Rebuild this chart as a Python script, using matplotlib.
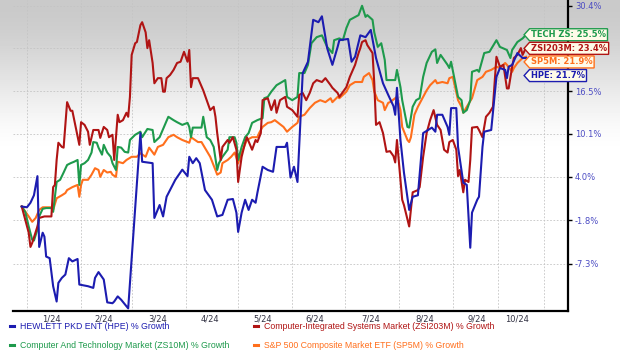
import numpy as np
import pandas as pd
import matplotlib
matplotlib.use("Agg")
import matplotlib.pyplot as plt
from matplotlib.path import Path
from matplotlib.lines import Line2D

# ---------------- DATA (days since 2024-01-01, % growth) ----------------
hpe_day = [-3, 0, 2, 4, 6, 7, 9, 10, 11, 13, 15, 17, 18, 20, 22, 24, 26, 29, 30, 35,
           38, 39, 41, 44, 46, 49, 50, 52, 54, 58, 65, 66, 72, 73, 76, 78, 80, 85, 89, 92,
           93, 95, 97, 99, 102, 106, 109, 112, 115, 118, 120, 121, 123, 125, 127, 129, 131, 132, 135, 138,
           141, 143, 148, 149, 151, 153, 155, 158, 161, 164, 167, 169, 171, 172, 175, 178, 179, 184, 186, 188,
           191, 194, 197, 200, 204, 207, 210, 211, 212, 214, 216, 219, 221, 224, 227, 232, 234, 235, 238, 241,
           242, 243, 246, 247, 250, 252, 254, 255, 258, 259, 261, 262, 266, 269, 271, 274, 275, 276, 278, 281,
           284, 286]
hpe_pct = [0.0, -0.1, 0.5, 1.5, 4.1, -5.2, -3.4, -3.9, -6.4, -6.6, -10.0, -11.8, -9.6, -9.0, -8.6, -6.6, -7.0, -6.7, -9.8, -10.0,
           -10.2, -9.0, -8.3, -9.2, -11.9, -12.0, -11.8, -11.2, -11.6, -12.6, 10.2, 6.1, 5.9, -1.5, 0.2, -1.3, 1.3, 3.6, 5.0, 4.1,
           6.8, 5.9, 6.6, 5.9, 2.2, 0.9, -1.3, -1.1, 0.9, 1.0, -0.8, -3.3, -0.8, 0.9, -0.45, 0.9, 0.5, 1.8, 5.4, 4.95,
           4.7, 8.2, 8.2, 8.8, 3.9, 5.4, 3.3, 19.3, 21.1, 28.0, 27.6, 28.6, 25.1, 23.3, 20.6, 23.5, 24.6, 24.8, 21.1, 21.9,
           25.4, 25.1, 26.3, 21.7, 17.7, 15.9, 14.2, 12.9, 17.0, 9.2, 4.6, -0.45, 1.3, 1.5, 10.2, 11.0, 10.4, 12.9, 12.9, 11.1,
           9.95, 13.9, 13.9, 8.2, 3.2, 2.9, -5.3, -0.8, 0.9, 1.3, 8.2, 10.4, 10.65, 18.7, 20.1, 19.8, 18.5, 20.3, 20.6, 22.5,
           21.7, 21.7]

zsi_day = [-3, 1, 2, 3, 6, 7, 10, 14, 15, 16, 17, 18, 20, 21, 23, 25, 26, 30, 31, 33,
           35, 36, 38, 41, 42, 44, 46, 47, 49, 50, 52, 53, 55, 57, 58, 59, 60, 62, 63, 65,
           66, 68, 69, 70, 72, 73, 75, 77, 78, 79, 80, 82, 84, 86, 88, 90, 92, 93, 94, 95,
           98, 101, 103, 105, 107, 108, 109, 111, 112, 115, 116, 118, 120, 121, 123, 125, 126, 129, 131, 132,
           134, 135, 138, 140, 142, 143, 145, 148, 149, 152, 155, 156, 158, 160, 162, 164, 166, 169, 171, 174,
           175, 178, 179, 183, 185, 188, 190, 191, 192, 194, 195, 198, 199, 200, 202, 204, 206, 208, 210, 211,
           212, 214, 215, 216, 219, 221, 224, 225, 227, 229, 231, 233, 235, 237, 239, 241, 242, 244, 246, 247,
           248, 250, 251, 253, 254, 255, 258, 259, 261, 263, 265, 267, 269, 271, 273, 275, 276, 278, 279, 281,
           283, 284, 286]
zsi_pct = [0.0, -3.4, -5.2, -4.7, -2.6, -1.5, -1.3, -1.3, 2.6, 2.9, 6.35, 8.8, 8.2, 8.1, 14.8, 13.5, 13.5, 8.5, 11.8, 11.4,
           10.4, 8.5, 10.65, 10.65, 9.5, 11.1, 10.65, 9.6, 9.95, 6.35, 12.9, 11.8, 12.1, 13.2, 12.6, 15.6, 22.2, 24.1, 24.3, 27.1,
           27.6, 25.9, 23.3, 24.6, 20.9, 17.7, 18.5, 18.5, 16.4, 16.4, 18.5, 19.0, 19.8, 20.9, 21.1, 22.7, 21.1, 23.0, 17.1, 18.5,
           18.5, 16.6, 15.1, 13.6, 14.1, 12.6, 10.2, 6.35, 8.2, 9.2, 8.8, 9.6, 7.8, 3.3, 6.8, 8.8, 9.6, 7.8, 9.2, 8.9,
           10.2, 15.1, 15.4, 13.6, 15.1, 13.2, 15.1, 15.6, 14.1, 13.6, 12.6, 15.9, 16.2, 15.1, 16.2, 17.7, 18.2, 17.9, 18.5, 17.4,
           17.0, 16.2, 15.6, 17.1, 18.7, 20.6, 22.5, 23.3, 24.3, 24.6, 23.8, 22.5, 17.7, 11.4, 11.8, 10.2, 7.5, 7.6, 6.9, 6.0,
           9.2, 3.6, 0.9, 0.2, -2.6, 1.9, 2.2, 2.6, 6.8, 10.2, 12.1, 13.6, 11.4, 10.65, 7.8, 7.4, 8.9, 9.2, 7.8, 4.1,
           4.95, 1.9, 3.6, 3.3, 6.35, 11.0, 11.1, 10.65, 9.6, 12.6, 13.2, 14.1, 21.9, 20.3, 20.6, 16.9, 16.9, 20.3, 21.7, 22.2,
           23.3, 22.2, 23.4]

zs10_day = [-3, -1, 1, 3, 4, 6, 7, 9, 11, 14, 15, 17, 19, 21, 23, 25, 27, 29, 30, 31,
            33, 35, 37, 38, 40, 41, 43, 44, 46, 48, 49, 51, 52, 54, 56, 58, 59, 62, 65, 66,
            69, 72, 73, 76, 79, 81, 84, 86, 89, 92, 93, 94, 95, 98, 100, 101, 103, 105, 107, 109,
            110, 112, 115, 116, 119, 120, 121, 123, 125, 127, 129, 132, 135, 136, 138, 140, 143, 148, 149, 152,
            155, 156, 159, 161, 163, 166, 169, 172, 175, 176, 179, 181, 183, 185, 190, 192, 194, 195, 198, 199,
            201, 203, 205, 206, 211, 212, 214, 215, 218, 219, 221, 223, 225, 227, 229, 232, 234, 235, 237, 241,
            242, 243, 247, 249, 250, 252, 254, 255, 258, 259, 262, 265, 269, 271, 275, 277, 278, 281, 284, 286]
zs10_pct = [0.0, -0.7, -2.6, -4.3, -4.4, -3.0, -1.3, -0.3, -0.2, -0.2, -0.7, 3.3, 3.6, 4.6, 5.65, 5.9, 6.1, 6.35, 2.9, 5.65,
            5.9, 6.35, 7.4, 8.9, 8.8, 8.1, 7.1, 8.5, 7.4, 6.8, 5.9, 4.95, 8.2, 8.1, 7.5, 7.4, 9.2, 9.95, 10.4, 9.6,
            10.8, 10.65, 8.9, 9.6, 11.4, 12.6, 12.1, 11.8, 11.4, 11.7, 11.1, 9.6, 11.0, 11.0, 11.0, 12.6, 9.6, 9.2, 8.2, 4.95,
            5.9, 6.8, 7.8, 9.6, 9.6, 8.8, 6.35, 8.2, 9.6, 10.2, 11.7, 12.1, 12.4, 15.4, 15.6, 16.4, 17.4, 18.2, 15.6, 15.1,
            15.6, 19.3, 19.3, 20.6, 24.1, 25.1, 25.4, 23.5, 22.5, 24.6, 24.9, 24.6, 26.6, 28.0, 28.8, 30.4, 28.5, 28.8, 28.0, 25.9,
            23.5, 24.1, 21.4, 18.2, 18.2, 19.8, 17.1, 15.1, 11.1, 11.0, 14.1, 15.1, 15.4, 18.7, 20.9, 22.7, 23.1, 20.9, 22.2, 20.6,
            20.1, 21.1, 15.6, 15.1, 13.2, 13.6, 15.1, 19.5, 19.8, 19.5, 22.5, 22.7, 24.6, 23.5, 23.0, 21.7, 23.0, 24.3, 24.9, 25.5]

sp5_day = [-3, 1, 3, 5, 7, 9, 11, 14, 15, 17, 20, 22, 23, 26, 29, 30, 31, 32, 35, 37,
           39, 41, 42, 44, 46, 48, 49, 51, 52, 55, 57, 60, 63, 65, 68, 70, 73, 75, 78, 81,
           84, 86, 89, 93, 94, 98, 100, 105, 108, 109, 111, 112, 115, 117, 119, 121, 123, 126, 129, 132,
           133, 135, 138, 140, 142, 147, 149, 152, 155, 156, 159, 162, 165, 168, 171, 174, 175, 178, 179, 183,
           185, 188, 192, 193, 196, 198, 199, 201, 204, 205, 207, 208, 212, 214, 215, 218, 219, 220, 222, 224,
           226, 229, 231, 234, 235, 238, 241, 242, 244, 247, 249, 250, 252, 255, 258, 261, 263, 266, 269, 271,
           274, 275, 278, 279, 281, 284, 286]
sp5_pct = [0.0, -1.3, -2.0, -1.5, -0.45, -0.1, -0.1, -0.1, -0.45, 1.1, 1.5, 1.8, 2.2, 2.6, 2.9, 1.3, 2.9, 3.6, 3.6, 4.3,
           5.2, 4.95, 4.0, 4.95, 4.6, 4.7, 4.3, 4.0, 6.1, 5.9, 6.35, 6.8, 6.8, 7.3, 6.8, 8.1, 7.1, 8.2, 8.5, 9.6,
           9.95, 9.6, 9.2, 8.8, 9.6, 8.9, 8.9, 6.8, 4.95, 4.3, 4.6, 5.9, 6.35, 6.8, 7.4, 5.9, 7.4, 9.2, 9.6, 9.6,
           10.2, 11.1, 11.7, 11.8, 12.1, 11.1, 10.4, 11.1, 11.7, 12.6, 12.9, 13.9, 14.7, 15.1, 14.8, 15.4, 14.8, 15.6, 15.4, 16.4,
           17.4, 17.9, 17.9, 18.7, 19.3, 18.2, 16.4, 15.1, 14.7, 13.6, 14.7, 14.8, 15.6, 13.6, 11.1, 9.2, 8.9, 9.6, 12.9, 14.1,
           15.1, 16.6, 17.4, 18.2, 17.7, 17.9, 17.7, 18.5, 18.7, 15.1, 14.1, 13.2, 14.1, 15.4, 18.2, 18.7, 19.5, 19.8, 20.3, 20.1,
           20.9, 20.6, 19.5, 20.1, 20.9, 21.7, 21.9]

names = ["HEWLETT PKD ENT (HPE) % Growth",
         "Computer And Technology Market (ZS10M) % Growth",
         "Computer-Integrated Systems Market (ZSI203M) % Growth",
         "S&P 500 Composite Market ETF (SP5M) % Growth"]
flag_text = ["HPE: 21.7%", "TECH ZS: 25.5%", "ZSI203M: 23.4%", "SP5M: 21.9%"]
colors = ["#1c1cb0", "#1e9a4c", "#b01414", "#ff6f1c"]

y_ticks = [30.4, 23.3, 16.5, 10.1, 4.0, -1.8, -7.3]
y_labels = ["30.4%", "", "16.5%", "10.1%", "4.0%", "-1.8%", "-7.3%"]
x_label_dates = ["2024-01-15", "2024-02-14", "2024-03-16", "2024-04-15", "2024-05-15",
                 "2024-06-14", "2024-07-16", "2024-08-16", "2024-09-15", "2024-10-08"]
x_labels = ["1/24", "2/24", "3/24", "4/24", "5/24", "6/24", "7/24", "8/24", "9/24", "10/24"]
x_grid_dates = ["2024-01-01", "2024-02-01", "2024-03-01", "2024-04-01", "2024-05-01", "2024-06-01",
                "2024-07-01", "2024-08-01", "2024-09-01", "2024-09-27", "2024-10-23"]

base = pd.Timestamp("2024-01-01")


def to_dates(days):
    return base + pd.to_timedelta(days, unit="D")


def fwd(g):
    return np.log1p(np.asarray(g, dtype=float) / 100.0)


def inv(v):
    return np.expm1(np.asarray(v, dtype=float)) * 100.0


def tag_box(x0, y0, width, height, mutation_size):
    pad = 0.18 * mutation_size
    x0, y0 = x0 - pad, y0 - pad
    x1, y1 = x0 + width + 2 * pad, y0 + height + 2 * pad
    ym = (y0 + y1) / 2
    tip = (y1 - y0) * 0.45
    return Path([(x0 - tip, ym), (x0, y0), (x1, y0), (x1, y1), (x0, y1), (x0 - tip, ym)], closed=True)


fig = plt.figure(figsize=(6.2, 3.54), dpi=100)

# grey-to-white background
bg = fig.add_axes([0, 0, 1, 1])
t = np.clip(np.linspace(0, 1, 354) / 0.45, 0, 1)
grad = 0.79 + 0.21 * (t * t * (3 - 2 * t))
bg.imshow(grad[:, None], cmap="gray", vmin=0, vmax=1, aspect="auto", extent=[0, 1, 0, 1])
bg.axis("off")

ax = fig.add_axes([13 / 620, 1 - 311 / 354, 555 / 620, 311 / 354])
ax.set_facecolor("none")
ax.set_yscale("function", functions=(fwd, inv))

series = [(hpe_day, hpe_pct), (zs10_day, zs10_pct), (zsi_day, zsi_pct), (sp5_day, sp5_pct)]
draw_order = [3, 1, 2, 0]
for i in draw_order:
    d, v = series[i]
    ax.plot(to_dates(d), v, color=colors[i], lw=1.5, solid_joinstyle="round", zorder=3)

ax.set_xlim(pd.Timestamp("2023-12-24"), pd.Timestamp("2024-11-06"))
ax.set_ylim(-12.9, 31.4)

ax.yaxis.tick_right()
ax.set_yticks(y_ticks)
ax.set_yticklabels(y_labels)
ax.tick_params(axis="y", which="major", direction="out", length=3, width=1, pad=2,
               labelsize=6, labelcolor="#4b4bc3", color="black")
ax.set_xticks(pd.to_datetime(x_label_dates))
ax.set_xticklabels(x_labels)
ax.set_xticks(pd.to_datetime(x_grid_dates), minor=True)
ax.tick_params(axis="x", which="both", length=0, pad=2.5, labelsize=6, labelcolor="#333344")
ax.grid(axis="y", which="major", color="#c4c4c4", lw=0.6, ls=(0, (2, 2)))
ax.grid(axis="x", which="minor", color="#c4c4c4", lw=0.6, ls=(0, (2, 2)))
ax.grid(axis="x", which="major", visible=False)

for s in ["left", "top"]:
    ax.spines[s].set_visible(False)
for s in ["bottom", "right"]:
    ax.spines[s].set_linewidth(1.6)
    ax.spines[s].set_color("black")

# flags at the right end, stacked so they do not overlap
last = [hpe_pct[-1], zs10_pct[-1], zsi_pct[-1], sp5_pct[-1]]
x0 = ax.get_xlim()[0]
order = sorted(range(4), key=lambda i: -last[i])
gap = 13.6
prev = None
for i in order:
    py = ax.transData.transform((x0, last[i]))[1]
    if prev is not None and prev - py < gap:
        py = prev - gap
    prev = py
    yd = ax.transData.inverted().transform((0, py))[1]
    ax.text((531 - 13) / 555, yd, flag_text[i], transform=ax.get_yaxis_transform(),
            ha="left", va="center", fontsize=6, fontweight="bold", color=colors[i], zorder=10,
            bbox=dict(boxstyle=tag_box, fc="#fffbe9", ec=colors[i], lw=1.0))

# legend below the chart
handles = [Line2D([], [], color=c, lw=2.2) for c in colors]
fig.legend(handles, names, loc="upper left", bbox_to_anchor=(10 / 620, 1 - 322 / 354), ncol=2,
           frameon=False, prop={"family": "Liberation Sans", "size": 6.3}, labelcolor="linecolor",
           handlelength=0.5, handletextpad=0.7, columnspacing=2.7, labelspacing=1.1,
           borderaxespad=0, borderpad=0)

fig.savefig("out.png", dpi=100)
